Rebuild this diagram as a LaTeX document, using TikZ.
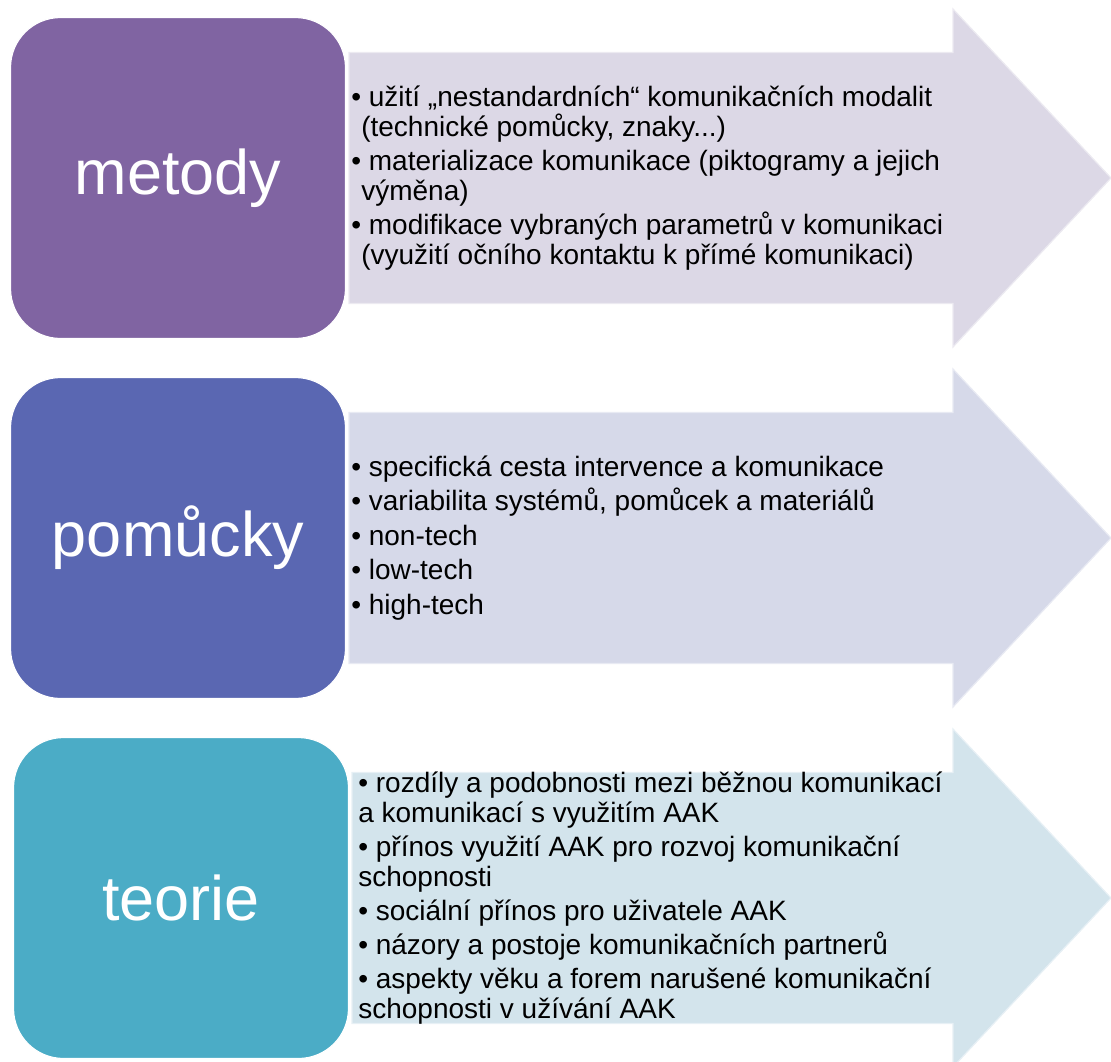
\documentclass[tikz,border=0pt]{standalone}
\usepackage{fontspec}
\setmainfont{Liberation Sans}
\usetikzlibrary{positioning}

\definecolor{metodyfill}{RGB}{128,100,162}
\definecolor{pomuckyfill}{RGB}{90,103,178}
\definecolor{teoriefill}{RGB}{75,172,198}
\definecolor{metodyarrow}{RGB}{220,216,230}
\definecolor{pomuckyarrow}{RGB}{214,217,233}
\definecolor{teoriearrow}{RGB}{211,228,236}

\tikzset{
	labelbox/.style={rounded corners=50pt, draw=white, line width=1.2pt,
		minimum width=335pt, minimum height=321pt, inner sep=0pt,
		text=white, font=\fontsize{63}{63}\selectfont},
	listtext/.style={align=left, inner sep=0pt, font=\fontsize{28}{30}\selectfont},
	bigarrow/.style={line width=1.2pt, line join=miter},
}

\begin{document}
\begin{tikzpicture}[x=1pt,y=-1pt]
			\useasboundingbox (0,0) rectangle (1111,1061);
			
			% arrows behind the boxes
			\foreach \y/\col/\dx in {178/metodyarrow/0, 538/pomuckyarrow/0, 898/teoriearrow/3}
			\filldraw[bigarrow, fill=\col, draw=white!45!\col] (349+\dx,\y-125.5) -- (953,\y-125.5) -- (953,\y-169)
				-- (1111,\y) -- (953,\y+169) -- (953,\y+125.5) -- (349+\dx,\y+125.5) -- cycle;
			
			\node[labelbox, fill=metodyfill] (metody) at (178,178) {metody};
			\node[labelbox, fill=pomuckyfill] (pomucky) at (178,538) {pomůcky};
			\node[labelbox, fill=teoriefill] (teorie) at (181,898) {teorie};
			
			\node[listtext, right=5pt of metody] (metodylist) {%
				• užití „nestandardních“ komunikačních modalit\\
				\hspace*{10pt}(technické pomůcky, znaky...)\\[4pt]
				• materializace komunikace (piktogramy a jejich\\
				\hspace*{10pt}výměna)\\[4pt]
				• modifikace vybraných parametrů v komunikaci\\
				\hspace*{10pt}(využití očního kontaktu k přímé komunikaci)};
			
			\node[listtext, right=5pt of pomucky] (pomuckylist) {%
				• specifická cesta intervence a komunikace\\[4.5pt]
				• variabilita systémů, pomůcek a materiálů\\[4.5pt]
				• non-tech\\[4.5pt]
				• low-tech\\[4.5pt]
				• high-tech};
			
			\node[listtext, right=9pt of teorie] (teorielist) {%
				• rozdíly a podobnosti mezi běžnou komunikací\\
				a komunikací s využitím AAK\\[4pt]
				• přínos využití AAK pro rozvoj komunikační\\
				schopnosti\\[4pt]
				• sociální přínos pro uživatele AAK\\[4pt]
				• názory a postoje komunikačních partnerů\\[4pt]
				• aspekty věku a forem narušené komunikační\\
				schopnosti v užívání AAK};
			
		\end{tikzpicture}
\end{document}
